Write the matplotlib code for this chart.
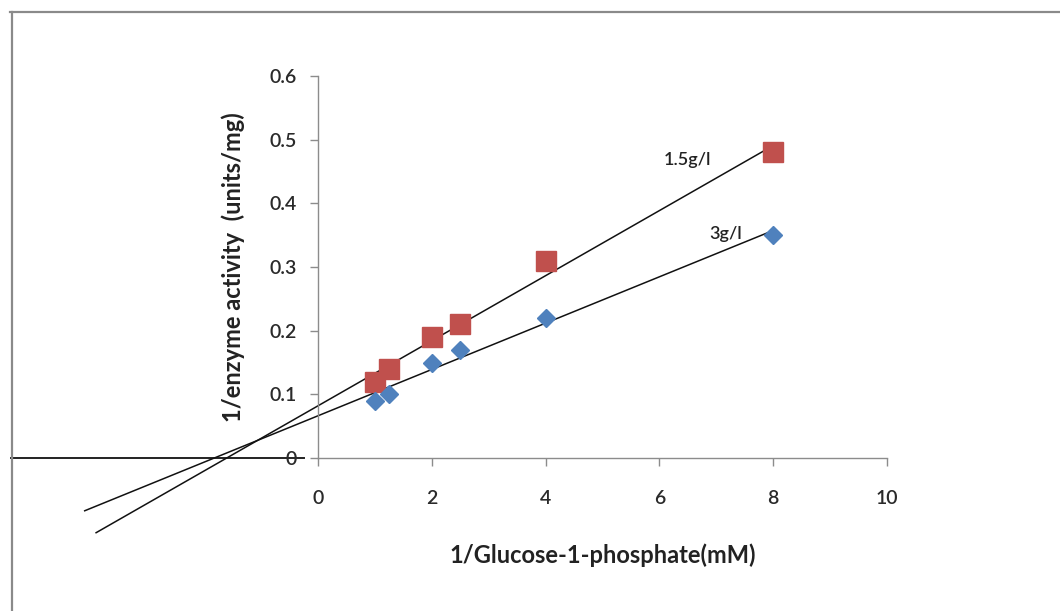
import numpy as np
import matplotlib
matplotlib.use("Agg")
import matplotlib.pyplot as plt
from matplotlib.lines import Line2D

# ---- data ----
inv_substrate = [1, 1.25, 2, 2.5, 4, 8]
inv_act_15 = [0.12, 0.14, 0.19, 0.21, 0.31, 0.48]   # 1.5 g/l
inv_act_3 = [0.09, 0.10, 0.15, 0.17, 0.22, 0.35]    # 3 g/l
line_start_15 = -3.9
line_start_3 = -4.1
line_end = 8
x_ticks = [0, 2, 4, 6, 8, 10]
y_ticks = [0, 0.1, 0.2, 0.3, 0.4, 0.5, 0.6]
y_tick_labels = ["0", "0.1", "0.2", "0.3", "0.4", "0.5", "0.6"]

W, H = 1060, 611
fig = plt.figure(figsize=(W / 100, H / 100), dpi=100)
fig.patch.set_facecolor("white")

# outer frame (cut off at right/bottom)
fig.add_artist(Line2D([10 / W, 1.0], [1 - 12 / H, 1 - 12 / H], transform=fig.transFigure,
                      color="#8a8a8a", lw=1.6))
fig.add_artist(Line2D([12 / W, 12 / W], [0, 1 - 12 / H], transform=fig.transFigure,
                      color="#8a8a8a", lw=1.6))

ax = fig.add_axes([318 / W, (H - 458) / H, 569 / W, 382 / H])
ax.set_xlim(0, 10)
ax.set_ylim(0, 0.6)
ax.set_facecolor("none")

for s in ["top", "right"]:
    ax.spines[s].set_visible(False)
for s in ["left", "bottom"]:
    ax.spines[s].set_color("#8c8c8c")
    ax.spines[s].set_linewidth(1.0)

font = "Lato"
ax.set_xticks(x_ticks)
ax.set_xticklabels([str(t) for t in x_ticks])
ax.set_yticks(y_ticks)
ax.set_yticklabels(y_tick_labels)
ax.tick_params(axis="both", direction="out", length=6, width=1, color="#8c8c8c",
               labelsize=14, labelcolor="#2a2a2a")
ax.tick_params(axis="x", pad=17)
ax.tick_params(axis="y", pad=9)
for lab in ax.get_xticklabels() + ax.get_yticklabels():
    lab.set_fontfamily(font)
    lab.set_fontweight("semibold")

# extended x-axis line to the left
ax.plot([-5.4, -0.25], [0, 0], color="#222222", lw=1.4, clip_on=False, zorder=1)

# fit lines from data
for xs, ys, x0 in [(inv_substrate, inv_act_15, line_start_15),
                   (inv_substrate, inv_act_3, line_start_3)]:
    m, b = np.polyfit(xs, ys, 1)
    lx = np.array([x0, line_end])
    ax.plot(lx, m * lx + b, color="#111111", lw=1.1, clip_on=False, zorder=2)

ax.plot(inv_substrate, inv_act_15, linestyle="none", marker="s", ms=14,
        color="#C0504D", clip_on=False, zorder=3)
ax.plot(inv_substrate, inv_act_3, linestyle="none", marker="D", ms=9.5,
        color="#4F81BD", clip_on=False, zorder=3)

ax.text(6.5, 0.468, "1.5g/l", fontsize=13, fontfamily=font, fontweight="semibold",
        color="#222222", ha="center", va="center")
ax.text(7.17, 0.352, "3g/l", fontsize=13, fontfamily=font, fontweight="semibold",
        color="#222222", ha="center", va="center")

ax.set_xlabel("1/Glucose-1-phosphate(mM)", fontsize=17, fontfamily=font,
              fontweight="bold", color="#222222", labelpad=26)
ax.set_ylabel("1/enzyme activity  (units/mg)", fontsize=17, fontfamily=font,
              fontweight="bold", color="#222222", labelpad=18)

fig.savefig("out.png", dpi=100, facecolor="white")
